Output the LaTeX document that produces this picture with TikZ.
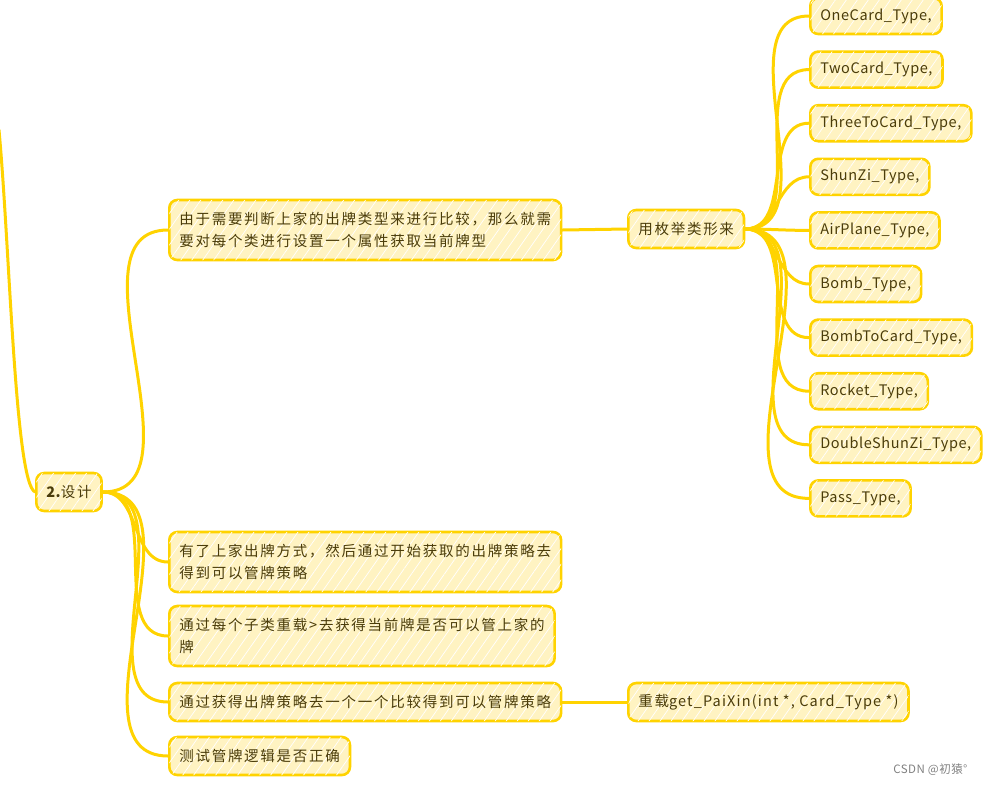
\documentclass[tikz,border=0pt]{standalone}
\usepackage{fontspec}
\setmainfont{Noto Sans CJK SC}[LetterSpace=4]
\newfontfamily\cjk{Noto Sans CJK SC}[LetterSpace=12]
\usetikzlibrary{patterns.meta}
\definecolor{mapline}{HTML}{FFD300}
\definecolor{mapfill}{HTML}{FFF3C2}
\definecolor{maptext}{HTML}{4A3C0A}
\tikzset{
  topic/.style={draw=mapline, fill=mapfill, line width=2.6pt, rounded corners=8pt,
    text=maptext, font=\fontsize{14.5}{22}\selectfont, inner xsep=10pt, inner ysep=8pt,
    minimum height=38pt, align=left, anchor=west,
    postaction={pattern={Lines[angle=55, distance=9pt, line width=0.7pt]}, pattern color=white}},
  twoline/.style={minimum height=60pt},
  branch/.style={draw=mapline, line width=3pt, line cap=round},
}
\begin{document}
\begin{tikzpicture}[x=1pt,y=-1pt]
        \useasboundingbox (0,0) rectangle (984,785);
        % main branches
        \node[topic] (root) at (35, 492) {{\bfseries 2.}\cjk 设计};
        \node[topic, twoline] (need) at (168, 230) {\cjk 由于需要判断上家的出牌类型来进行比较，那么就需\\\cjk 要对每个类进行设置一个属性获取当前牌型};
        \node[topic] (enum) at (627, 229) {\cjk 用枚举类形来};
        \node[topic, twoline] (way) at (168, 562) {\cjk 有了上家出牌方式，然后通过开始获取的出牌策略去\\\cjk 得到可以管牌策略};
        \node[topic, twoline] (sub) at (168, 636) {\cjk 通过每个子类重载>去获得当前牌是否可以管上家的\\\cjk 牌};
        \node[topic] (cmp) at (168, 702) {\cjk 通过获得出牌策略去一个一个比较得到可以管牌策略};
        \node[topic] (load) at (627, 702) {{\cjk 重载}\addfontfeature{LetterSpace=8}get\_PaiXin(int *, Card\_Type *)};
        \node[topic] (test) at (168, 756) {\cjk 测试管牌逻辑是否正确};
        \coordinate (up) at (-1, 130);
        \draw[branch] (root.west) .. controls (15, 482) and (10, 250) .. (up);
        \foreach \kid in {need, way, sub, cmp, test}
            \draw[branch] (root.east) to[out=0, in=180] (\kid.west);
        \draw[branch] (need.east) -- (enum.west);
        \draw[branch] (cmp.east) -- (load.west);
        % enum values
        \foreach \lbl [count=\i] in {OneCard\_Type, TwoCard\_Type, ThreeToCard\_Type, ShunZi\_Type,
            AirPlane\_Type, Bomb\_Type, BombToCard\_Type, Rocket\_Type, DoubleShunZi\_Type, Pass\_Type}
        {
            \node[topic, minimum height=36pt] (e\i) at (809, {16 + (\i - 1) * 53.6}) {\lbl,};
            \draw[branch] (enum.east) to[out=0, in=180] (e\i.west);
        }
        \node[text=gray, font=\fontsize{11.5}{14}\selectfont, anchor=east] (mark) at (971, 770) {CSDN @初猿°};
\end{tikzpicture}
\end{document}
